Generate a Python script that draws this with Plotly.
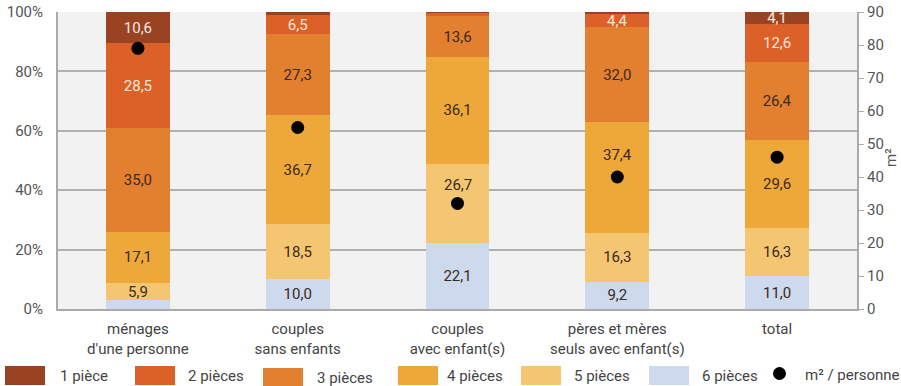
import plotly.graph_objects as go

# Household types (x categories)
categories = [
    "ménages<br>d'une personne",
    "couples<br>sans enfants",
    "couples<br>avec enfant(s)",
    "pères et mères<br>seuls avec enfant(s)",
    "total",
]

# Share of dwellings by number of rooms, in % (stacked bottom -> top)
rooms_6 = [2.9, 10.0, 22.1, 9.2, 11.0]
rooms_5 = [5.9, 18.5, 26.7, 16.3, 16.3]
rooms_4 = [17.1, 36.7, 36.1, 37.4, 29.6]
rooms_3 = [35.0, 27.3, 13.6, 32.0, 26.4]
rooms_2 = [28.5, 6.5, 1.2, 4.4, 12.6]
rooms_1 = [10.6, 1.0, 0.3, 0.7, 4.1]

# Living space per person, m²
m2_per_person = [79, 55, 32, 40, 46]

series = [
    ("6 pièces", rooms_6, "#cdd9ec", "#3a2a1c"),
    ("5 pièces", rooms_5, "#f4c672", "#3a2a1c"),
    ("4 pièces", rooms_4, "#eea83a", "#3a2a1c"),
    ("3 pièces", rooms_3, "#e2802f", "#3a2a1c"),
    ("2 pièces", rooms_2, "#dc6128", "#fbe6da"),
    ("1 pièce", rooms_1, "#994322", "#f6e9e0"),
]

# Segments whose value label is lifted above the m² marker (series, category index)
lifted_labels = {("5 pièces", 2): 6.3, ("4 pièces", 3): 7.6}

FONT = "Roboto"
W, H = 901, 386
L, R, T, B = 58, 44, 12, 77
pw, ph = W - L - R, H - T - B

def px(x):
    return (x - L) / pw

def py(y):
    return (H - B - y) / ph

def fmt(v):
    return f"{v:.1f}".replace(".", ",")

fig = go.Figure()
annotations = []
base = [0.0] * len(categories)

for name, vals, color, tcolor in series:
    labels = []
    for i, v in enumerate(vals):
        if v < 4:
            labels.append("")
        elif (name, i) in lifted_labels:
            labels.append("")
            annotations.append(dict(
                x=categories[i], y=base[i] + v / 2 + lifted_labels[(name, i)],
                xref="x", yref="y", text=fmt(v), showarrow=False,
                font=dict(family=FONT, size=15, color=tcolor)))
        else:
            labels.append(fmt(v))
    fig.add_trace(go.Bar(
        x=categories, y=vals, name=name, width=0.4,
        marker=dict(color=color, line=dict(width=0)),
        text=labels, textposition="inside", insidetextanchor="middle",
        constraintext="none", textangle=0,
        textfont=dict(family=FONT, size=15, color=tcolor),
        showlegend=False, hoverinfo="skip",
    ))
    base = [b + v for b, v in zip(base, vals)]

fig.add_trace(go.Scatter(
    x=categories, y=m2_per_person, yaxis="y2", mode="markers",
    marker=dict(color="black", size=13), showlegend=False,
    name="m² / personne", hoverinfo="skip",
))

# Hand-made legend row below the plot
legend_items = [
    ("1 pièce", "#994322", 5, 58, 376),
    ("2 pièces", "#dc6128", 135, 186, 376),
    ("3 pièces", "#e2802f", 263, 315, 378),
    ("4 pièces", "#eea83a", 398, 445, 376),
    ("5 pièces", "#f4c672", 521, 572, 376),
    ("6 pièces", "#cdd9ec", 649, 700, 376),
]

shapes = []
for label, color, sx, tx, ty in legend_items:
    shapes.append(dict(type="rect", xref="paper", yref="paper",
                       x0=px(sx), x1=px(sx + 40), y0=py(ty + 9), y1=py(ty - 10),
                       fillcolor=color, line=dict(width=0)))
    annotations.append(dict(text=label, xref="paper", yref="paper",
                            x=px(tx), y=py(ty), xanchor="left", yanchor="middle",
                            showarrow=False,
                            font=dict(family=FONT, size=15, color="#444")))
shapes.append(dict(type="circle", xref="paper", yref="paper",
                   x0=px(773), x1=px(786), y0=py(380), y1=py(367),
                   fillcolor="black", line=dict(width=0)))
annotations.append(dict(text="m² / personne", xref="paper", yref="paper",
                        x=px(803), y=py(375), xanchor="left", yanchor="middle",
                        showarrow=False,
                        font=dict(family=FONT, size=15, color="#444")))
# Right axis title
annotations.append(dict(text="m²", xref="paper", yref="paper",
                        x=px(891), y=py(158), xanchor="center", yanchor="middle",
                        textangle=-90, showarrow=False,
                        font=dict(family=FONT, size=15, color="#555")))

fig.update_layout(
    width=W, height=H,
    margin=dict(l=L, r=R, t=T, b=B, pad=0),
    barmode="stack",
    separators=", ",
    paper_bgcolor="white",
    plot_bgcolor="#f2f2f2",
    font=dict(family=FONT, size=15, color="#555"),
    xaxis=dict(
        automargin=False,
        showline=True, linecolor="#aaaaaa", linewidth=2,
        ticks="outside", ticklen=5, tickcolor="rgba(0,0,0,0)",
        tickfont=dict(size=15, color="#444"),
        showgrid=False,
    ),
    yaxis=dict(
        automargin=False,
        range=[0, 100], tickvals=[0, 20, 40, 60, 80, 100],
        ticktext=["0%", "20%", "40%", "60%", "80%", "100%"],
        showgrid=True, gridcolor="#b0b0b0", gridwidth=1.5,
        showline=True, linecolor="#aaaaaa", linewidth=2,
        ticks="outside", ticklen=10, tickcolor="rgba(0,0,0,0)",
        tickfont=dict(size=15, color="#555"), zeroline=False,
    ),
    yaxis2=dict(
        automargin=False,
        range=[0, 90], overlaying="y", side="right",
        tickvals=list(range(0, 91, 10)),
        showgrid=False, showline=True, linecolor="#aaaaaa", linewidth=2,
        ticks="outside", ticklen=5, tickcolor="#aaaaaa",
        tickfont=dict(size=15, color="#555"), zeroline=False,
    ),
    shapes=shapes,
    annotations=annotations,
)

fig.write_html("out.html")
